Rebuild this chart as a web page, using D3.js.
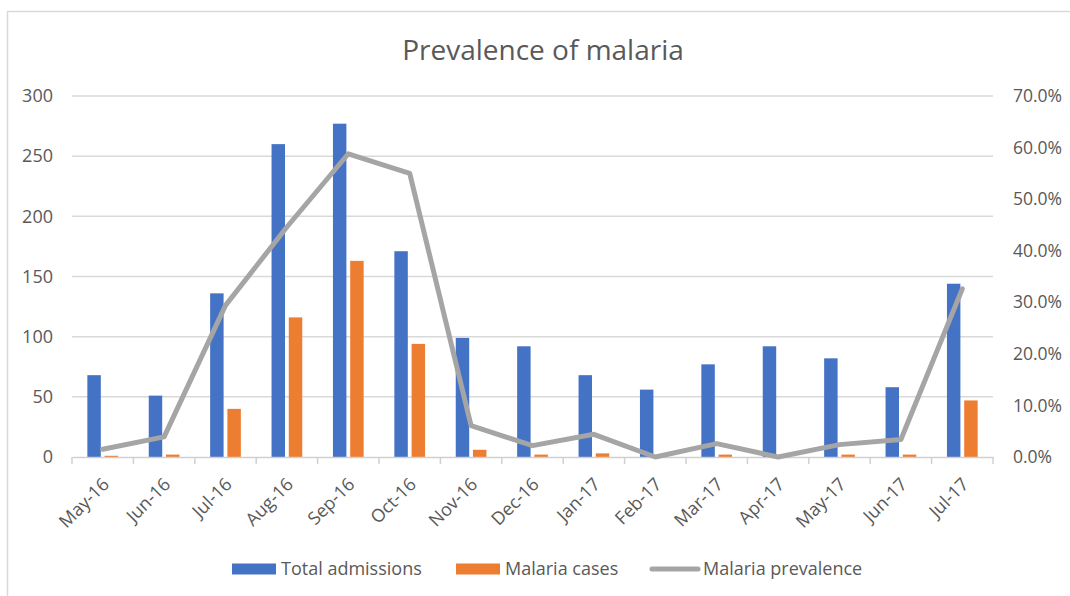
<!DOCTYPE html>
<html>
<head>
<meta charset="utf-8">
<script src="https://cdn.jsdelivr.net/npm/d3@7"></script>
<style>
  html, body { margin: 0; padding: 0; background: #fff; }
  svg { display: block; font-family: "Open Sans", Lato, sans-serif; }
</style>
</head>
<body>
<svg id="chart" width="1070" height="596"></svg>
<script>
const categories = ["May-16","Jun-16","Jul-16","Aug-16","Sep-16","Oct-16","Nov-16","Dec-16","Jan-17","Feb-17","Mar-17","Apr-17","May-17","Jun-17","Jul-17"];
const totalAdmissions = [68, 51, 136, 260, 277, 171, 99, 92, 68, 56, 77, 92, 82, 58, 144];
const malariaCases = [1, 2, 40, 116, 163, 94, 6, 2, 3, 0, 2, 0, 2, 2, 47];
const malariaPrevalence = [1.5, 3.9, 29.4, 44.6, 58.8, 55.0, 6.1, 2.2, 4.4, 0.0, 2.6, 0.0, 2.4, 3.4, 32.6];
const leftTicks = [0, 50, 100, 150, 200, 250, 300];
const rightTicks = [0, 10, 20, 30, 40, 50, 60, 70];
const seriesNames = ["Total admissions", "Malaria cases", "Malaria prevalence"];
const colors = ["#4472C4", "#ED7D31", "#A5A5A5"];

const svg = d3.select("#chart");
const textColor = "#595959";
const FONT = "'Open Sans', Lato, sans-serif";
const plot = { left: 72, right: 993, top: 96, bottom: 457 };

// outer chart border
svg.append("rect").attr("x", 7.5).attr("y", 11.5).attr("width", 1100).attr("height", 700)
  .attr("fill", "none").attr("stroke", "#D9D9D9").attr("stroke-width", 1.5);

svg.append("text").attr("x", 543).attr("y", 60).attr("text-anchor", "middle")
  .attr("font-size", 28).attr("fill", textColor).text("Prevalence of malaria");

const x0 = d3.scaleBand().domain(categories).range([plot.left, plot.right]).padding(0);
const bw = x0.bandwidth();
const x1 = d3.scaleBand().domain([0, 1]).range([bw * 0.25, bw * 0.75]).paddingInner(0.22).paddingOuter(0);
const yL = d3.scaleLinear().domain([0, 300]).range([plot.bottom, plot.top]);
const yR = d3.scaleLinear().domain([0, 70]).range([plot.bottom, plot.top]);

// gridlines
svg.append("g").selectAll("line").data(leftTicks.slice(1)).join("line")
  .attr("x1", plot.left).attr("x2", plot.right)
  .attr("y1", d => yL(d)).attr("y2", d => yL(d))
  .attr("stroke", "#D9D9D9").attr("stroke-width", 1.5);

// left axis labels
const leftAxis = d3.axisLeft(yL).tickValues(leftTicks).tickSize(0).tickPadding(0);
const gl = svg.append("g").attr("transform", `translate(${plot.left - 19},0)`).call(leftAxis);
gl.select(".domain").remove();
gl.selectAll("text").attr("font-size", 18).attr("fill", textColor).attr("font-family", FONT);

// right axis labels
const rightAxis = d3.axisRight(yR).tickValues(rightTicks).tickSize(0).tickPadding(0).tickFormat(d => d.toFixed(1) + "%");
const gr = svg.append("g").attr("transform", `translate(1013,0)`).call(rightAxis);
gr.select(".domain").remove();
gr.selectAll("text").attr("font-size", 17.5).attr("fill", textColor).attr("font-family", FONT);

// bars
const groups = svg.append("g").selectAll("g").data(categories).join("g")
  .attr("transform", d => `translate(${x0(d)},0)`);
groups.append("rect")
  .attr("x", x1(0)).attr("width", x1.bandwidth())
  .attr("y", (d, i) => yL(totalAdmissions[i])).attr("height", (d, i) => yL(0) - yL(totalAdmissions[i]))
  .attr("fill", colors[0]);
groups.append("rect")
  .attr("x", x1(1)).attr("width", x1.bandwidth())
  .attr("y", (d, i) => yL(malariaCases[i])).attr("height", (d, i) => yL(0) - yL(malariaCases[i]))
  .attr("fill", colors[1]);

// x axis
const xAxis = d3.axisBottom(x0).tickSize(0).tickFormat("");
const gx = svg.append("g").attr("transform", `translate(0,${plot.bottom})`).call(xAxis);
gx.select(".domain").attr("stroke", "#D0D0D0").attr("stroke-width", 1.5);
gx.selectAll(".tick").remove();
const bounds = categories.map(c => x0(c)).concat([plot.right]);
gx.selectAll("line.tk").data(bounds).join("line").attr("class", "tk")
  .attr("x1", d => d).attr("x2", d => d).attr("y1", 0).attr("y2", 7)
  .attr("stroke", "#D0D0D0").attr("stroke-width", 1.5);

svg.append("g").selectAll("text").data(categories).join("text")
  .attr("transform", d => `translate(${x0(d) + bw / 2 + 3},${plot.bottom + 24}) rotate(-45)`)
  .attr("text-anchor", "end").attr("dy", "0.35em")
  .attr("font-size", 18).attr("fill", textColor).text(d => d);

// line
const line = d3.line().x((d, i) => x0(categories[i]) + bw / 2).y(d => yR(d));
svg.append("path").datum(malariaPrevalence).attr("d", line)
  .attr("fill", "none").attr("stroke", colors[2]).attr("stroke-width", 5)
  .attr("stroke-linejoin", "round").attr("stroke-linecap", "round");

// legend
const legendY = 569;
const lg = svg.append("g");
lg.append("rect").attr("x", 232).attr("y", legendY - 5.5).attr("width", 44).attr("height", 11).attr("fill", colors[0]);
lg.append("text").attr("x", 281).attr("y", legendY).attr("dy", "0.35em").attr("font-size", 18).attr("fill", textColor).text(seriesNames[0]);
lg.append("rect").attr("x", 456).attr("y", legendY - 5.5).attr("width", 44).attr("height", 11).attr("fill", colors[1]);
lg.append("text").attr("x", 505).attr("y", legendY).attr("dy", "0.35em").attr("font-size", 18).attr("fill", textColor).text(seriesNames[1]);
lg.append("line").attr("x1", 652).attr("x2", 698).attr("y1", legendY).attr("y2", legendY)
  .attr("stroke", colors[2]).attr("stroke-width", 5).attr("stroke-linecap", "round");
lg.append("text").attr("x", 703).attr("y", legendY).attr("dy", "0.35em").attr("font-size", 18).attr("fill", textColor).text(seriesNames[2]);
</script>
</body>
</html>
